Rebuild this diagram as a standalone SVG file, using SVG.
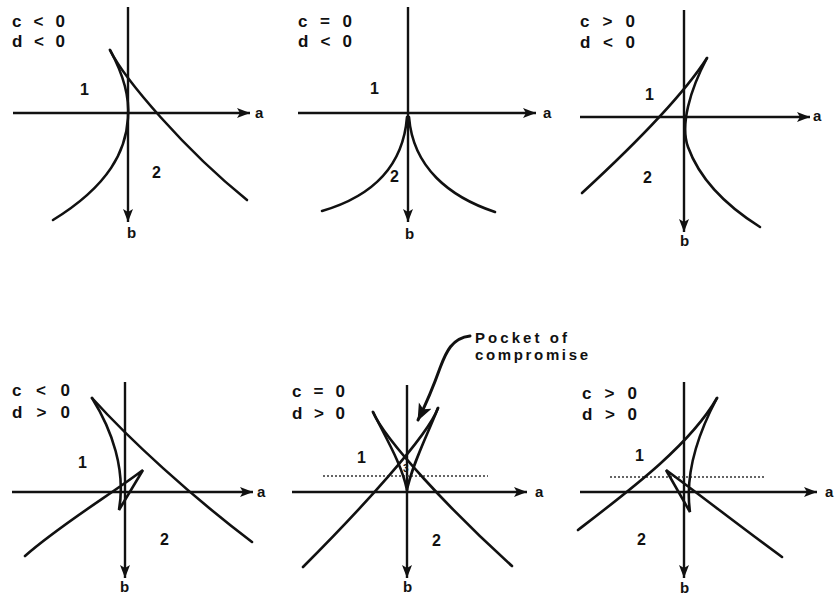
<svg xmlns="http://www.w3.org/2000/svg" width="839" height="596" viewBox="0 0 839 596">
<style>
  .ax{stroke:#111;stroke-width:2.4;fill:none;marker-end:url(#ah)}
  .cv{stroke:#111;stroke-width:2.6;fill:none;stroke-linejoin:miter;stroke-linecap:round}
  .dot{stroke:#333;stroke-width:1.4;stroke-dasharray:2 2;fill:none}
  .arr{stroke:#111;stroke-width:3;fill:none;stroke-linecap:round;marker-end:url(#ah2)}
  text{font-family:"Liberation Sans",Arial,sans-serif;font-weight:bold;fill:#111}
  .cond{font-size:17px}
  .lab{font-size:15px}
  .reg{font-size:16px}
  .note{font-size:15px}
  .small{font-size:10px}
</style>
<defs>
  <marker id="ah" markerUnits="userSpaceOnUse" markerWidth="14" markerHeight="12" refX="13" refY="5" orient="auto">
    <path d="M0,0 L13,5 L0,10 L3,5 z" fill="#111"/>
  </marker>
  <marker id="ah2" markerUnits="userSpaceOnUse" markerWidth="20" markerHeight="16" refX="16" refY="7" orient="auto">
    <path d="M0,0 L17,7 L0,14 L4,7 z" fill="#111"/>
  </marker>
</defs>

<g id="panel-1">
  <path class="ax" d="M13,113 H250"/>
  <path class="ax" d="M128,7 V222"/>
  <path class="cv" d="M110,50 C122,72 130,95 128,118 C126,150 110,185 53,220"/>
  <path class="cv" d="M110,50 C125,80 185,150 247,200"/>
  <text class="cond" x="12" y="27" textLength="53" lengthAdjust="spacing">c &lt; 0</text>
  <text class="cond" x="12" y="47" textLength="53" lengthAdjust="spacing">d &lt; 0</text>
  <text class="lab" x="255" y="118">a</text>
  <text class="lab" x="127" y="238">b</text>
  <text class="reg" x="80" y="95">1</text>
  <text class="reg" x="152" y="178">2</text>
</g>

<g id="panel-2">
  <path class="ax" d="M298,113 H536"/>
  <path class="ax" d="M408,7 V222"/>
  <path class="cv" d="M407,117 C403,168 370,197 322,211"/>
  <path class="cv" d="M409,117 C413,168 450,197 495,212"/>
  <text class="cond" x="298" y="27" textLength="54" lengthAdjust="spacing">c = 0</text>
  <text class="cond" x="298" y="47" textLength="54" lengthAdjust="spacing">d &lt; 0</text>
  <text class="lab" x="543" y="118">a</text>
  <text class="lab" x="405" y="239">b</text>
  <text class="reg" x="370" y="94">1</text>
  <text class="reg" x="390" y="182">2</text>
</g>

<g id="panel-3">
  <path class="ax" d="M580,117 H810"/>
  <path class="ax" d="M684,10 V232"/>
  <path class="cv" d="M582,193 C620,158 680,100 707,58"/>
  <path class="cv" d="M707,58 C690,90 680,125 688,147 C700,180 725,205 760,227"/>
  <text class="cond" x="580" y="27" textLength="55" lengthAdjust="spacing">c &gt; 0</text>
  <text class="cond" x="580" y="48" textLength="55" lengthAdjust="spacing">d &lt; 0</text>
  <text class="lab" x="813" y="121">a</text>
  <text class="lab" x="680" y="246">b</text>
  <text class="reg" x="645" y="100">1</text>
  <text class="reg" x="643" y="183">2</text>
</g>

<g id="panel-4">
  <path class="ax" d="M12,492 H253"/>
  <path class="ax" d="M125,382 V578"/>
  <path class="cv" d="M92,398 C130,440 190,495 252,542"/>
  <path class="cv" d="M92,398 C112,430 126,470 119,510 L143,470 C110,495 60,525 25,556"/>
  <text class="cond" x="12" y="396" textLength="58" lengthAdjust="spacing">c &lt; 0</text>
  <text class="cond" x="12" y="418" textLength="58" lengthAdjust="spacing">d &gt; 0</text>
  <text class="lab" x="257" y="497">a</text>
  <text class="lab" x="120" y="592">b</text>
  <text class="reg" x="78" y="468">1</text>
  <text class="reg" x="160" y="545">2</text>
</g>

<g id="panel-5">
  <path class="ax" d="M292,492 H527"/>
  <path class="ax" d="M407,385 V578"/>
  <path class="dot" d="M323,476 H488"/>
  <path class="cv" d="M373,412 C385,440 450,510 512,566"/>
  <path class="cv" d="M438,408 C428,436 360,510 303,567"/>
  <path class="cv" d="M373,412 C387,440 402,465 407,490"/>
  <path class="cv" d="M438,408 C426,438 412,465 407,490"/>
  <text class="cond" x="292" y="397" textLength="53" lengthAdjust="spacing">c = 0</text>
  <text class="cond" x="292" y="419" textLength="53" lengthAdjust="spacing">d &gt; 0</text>
  <text class="lab" x="535" y="497">a</text>
  <text class="lab" x="403" y="592">b</text>
  <text class="reg" x="357" y="463">1</text>
  <text class="reg" x="432" y="546">2</text>
  <text class="small" x="403" y="472">3</text>
</g>

<g id="pocket-label">
  <text class="note" x="475" y="343" textLength="92" lengthAdjust="spacing">Pocket of</text>
  <text class="note" x="475" y="360" textLength="113" lengthAdjust="spacing">compromise</text>
</g>

<g id="panel-6">
  <path class="ax" d="M580,492 H817"/>
  <path class="ax" d="M684,382 V578"/>
  <path class="dot" d="M610,477 H765"/>
  <path class="cv" d="M578,530 C630,490 690,445 717,398"/>
  <path class="cv" d="M717,398 C700,430 684,470 690,512 L666,470 C700,495 745,530 782,557"/>
  <text class="cond" x="582" y="399" textLength="55" lengthAdjust="spacing">c &gt; 0</text>
  <text class="cond" x="582" y="420" textLength="55" lengthAdjust="spacing">d &gt; 0</text>
  <text class="lab" x="825" y="497">a</text>
  <text class="lab" x="680" y="593">b</text>
  <text class="reg" x="635" y="461">1</text>
  <text class="reg" x="637" y="545">2</text>
</g>

<g id="connectors">
  <path class="arr" d="M470,336 C452,338 446,352 440,368 C435,382 428,400 418,420"/>
</g>
</svg>
